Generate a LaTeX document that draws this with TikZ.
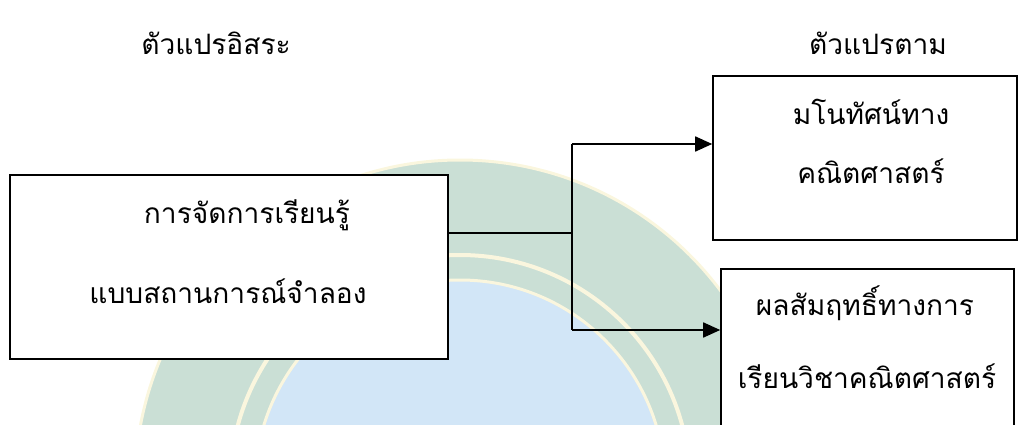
\documentclass[tikz,border=0pt]{standalone}
\usepackage{fontspec}
\newfontfamily\thaifont[Script=Thai]{Loma}
\usetikzlibrary{arrows.meta}
\definecolor{sealgreen}{RGB}{202,223,213}
\definecolor{sealblue}{RGB}{210,230,247}
\definecolor{sealcream}{RGB}{250,246,222}
\tikzset{
	varbox/.style={draw, line width=0.9pt, fill=white, inner sep=0pt},
	vartext/.style={font=\thaifont\fontsize{16}{19}\selectfont, anchor=base, inner sep=0pt},
	flowline/.style={line width=1pt},
	flowarrow/.style={line width=1pt, -{Triangle[length=0.34cm,width=0.3cm]}}
}

\begin{document}
\begin{tikzpicture}
		%%%%% START %%%%%
		\useasboundingbox (0, 0) rectangle (20.38, 8.48);
		
		% seal in the background
		\begin{scope}
			\clip (0, 0) rectangle (20.38, 8.48);
			\draw[fill=sealgreen, draw=sealcream, line width=0.6mm] (9.2, -1.22) circle (6.5);
			\draw[draw=sealcream, line width=0.8mm] (9.2, -1.22) circle (4.6);
			\draw[fill=sealblue, draw=sealcream, line width=0.6mm] (9.2, -1.22) circle (4.1);
		\end{scope}
		
		\node[vartext] (ivhead) at (4.32, 7.38) {ตัวแปรอิสระ};
		\node[vartext] (dvhead) at (17.56, 7.38) {ตัวแปรตาม};
		
		\node[varbox, minimum width=8.76cm, minimum height=3.68cm] (iv) at (4.58, 3.14) {};
		\node[vartext] (ivtop) at (4.94, 4.02) {การจัดการเรียนรู้};
		\node[vartext] (ivbot) at (4.56, 2.42) {แบบสถานการณ์จำลอง};
		
		\node[varbox, minimum width=6.08cm, minimum height=3.28cm] (dva) at (17.3, 5.32) {};
		\node[vartext] (dvatop) at (17.42, 5.98) {มโนทัศน์ทาง};
		\node[vartext] (dvabot) at (17.42, 4.82) {คณิตศาสตร์};
		
		\node[varbox, minimum width=5.86cm, minimum height=3.4cm] (dvb) at (17.35, 1.4) {};
		\node[vartext] (dvbtop) at (17.3, 2.18) {ผลสัมฤทธิ์ทางการ};
		\node[vartext] (dvbbot) at (17.34, 0.72) {เรียนวิชาคณิตศาสตร์};
		
		\coordinate (split) at (11.44, 3.82);
		\coordinate (up) at (11.44, 5.6);
		\coordinate (down) at (11.44, 1.88);
		
		\draw[flowline] (iv.east |- split) -- (split);
		\draw[flowline] (up) -- (down);
		\draw[flowarrow] (up) -- (up -| dva.west);
		\draw[flowarrow] (down) -- (down -| dvb.west);
		%%%%% END %%%%%
\end{tikzpicture}
\end{document}
